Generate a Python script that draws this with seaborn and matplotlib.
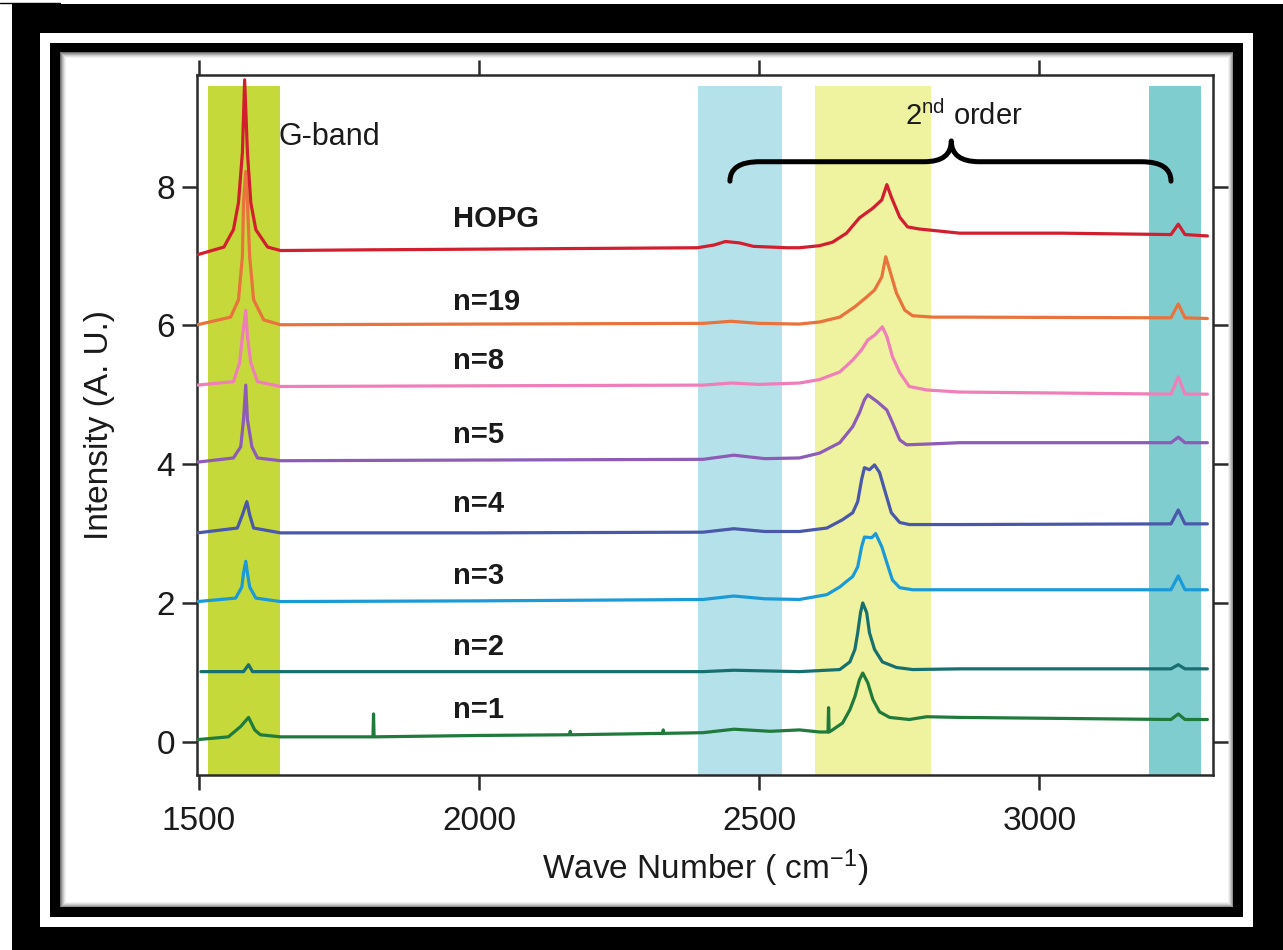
import matplotlib
matplotlib.use("Agg")
import matplotlib.pyplot as plt
from matplotlib.patches import Rectangle, PathPatch
from matplotlib.path import Path
import pandas as pd
import seaborn as sns

# ---- Raman spectra (wavenumber in cm^-1, stacked intensity in A.U.) ----
hopg_x = [1498, 1545, 1562, 1571, 1578, 1582, 1587, 1593, 1602, 1623, 1646, 1800, 2000, 2200,
          2390, 2420, 2440, 2465, 2490, 2550, 2572, 2608, 2631, 2656, 2679, 2703, 2719, 2728,
          2736, 2751, 2765, 2786, 2834, 2858, 3041, 3235, 3248, 3260, 3300]
hopg_y = [7.02, 7.13, 7.38, 7.77, 8.49, 9.54, 8.49, 7.77, 7.38, 7.13, 7.08, 7.09, 7.10, 7.11,
          7.12, 7.16, 7.21, 7.19, 7.14, 7.12, 7.12, 7.15, 7.20, 7.33, 7.55, 7.69, 7.81, 8.03,
          7.85, 7.56, 7.42, 7.39, 7.35, 7.33, 7.33, 7.31, 7.46, 7.31, 7.29]

n19_x = [1498, 1557, 1571, 1578, 1580, 1584, 1587, 1591, 1598, 1616, 1646, 2000, 2400, 2450,
         2500, 2572, 2608, 2644, 2671, 2692, 2706, 2719, 2726, 2733, 2745, 2760, 2774, 2810,
         2858, 3235, 3248, 3260, 3300]
n19_y = [6.01, 6.12, 6.37, 6.99, 7.77, 8.22, 7.77, 6.99, 6.37, 6.08, 6.01, 6.02, 6.03, 6.06,
         6.03, 6.02, 6.05, 6.12, 6.27, 6.41, 6.51, 6.70, 6.99, 6.80, 6.47, 6.22, 6.14, 6.12,
         6.12, 6.11, 6.31, 6.11, 6.10]

n8_x = [1498, 1562, 1573, 1578, 1584, 1587, 1593, 1605, 1646, 2000, 2400, 2450, 2500, 2572,
        2608, 2644, 2667, 2683, 2694, 2706, 2720, 2728, 2738, 2751, 2768, 2799, 2858, 3235,
        3248, 3260, 3300]
n8_y = [5.14, 5.19, 5.46, 5.84, 6.22, 5.84, 5.46, 5.19, 5.12, 5.13, 5.14, 5.17, 5.15, 5.17,
        5.22, 5.33, 5.50, 5.65, 5.79, 5.86, 5.98, 5.84, 5.55, 5.32, 5.12, 5.07, 5.04, 5.01,
        5.26, 5.01, 5.01]

n5_x = [1498, 1562, 1575, 1580, 1584, 1587, 1595, 1605, 1646, 2000, 2400, 2455, 2510, 2572,
        2608, 2644, 2667, 2679, 2688, 2694, 2711, 2728, 2738, 2751, 2763, 2799, 2858, 3235,
        3248, 3260, 3300]
n5_y = [4.03, 4.09, 4.25, 4.64, 5.14, 4.64, 4.25, 4.09, 4.05, 4.06, 4.07, 4.13, 4.08, 4.09,
        4.16, 4.31, 4.54, 4.74, 4.93, 5.00, 4.90, 4.78, 4.60, 4.35, 4.28, 4.29, 4.31, 4.31,
        4.39, 4.31, 4.31]

n4_x = [1498, 1569, 1578, 1586, 1591, 1598, 1646, 2000, 2400, 2455, 2510, 2572, 2621, 2649,
        2667, 2676, 2683, 2688, 2697, 2706, 2715, 2724, 2736, 2751, 2768, 2858, 3235, 3248,
        3260, 3300]
n4_y = [3.01, 3.08, 3.27, 3.46, 3.27, 3.08, 3.01, 3.01, 3.02, 3.07, 3.03, 3.03, 3.08, 3.20,
        3.30, 3.46, 3.78, 3.95, 3.92, 3.99, 3.88, 3.63, 3.30, 3.16, 3.13, 3.13, 3.14, 3.34,
        3.14, 3.14]

n3_x = [1498, 1566, 1577, 1580, 1584, 1587, 1591, 1602, 1646, 2000, 2400, 2455, 2510, 2572,
        2621, 2644, 2656, 2667, 2676, 2683, 2688, 2701, 2708, 2719, 2728, 2738, 2751, 2774,
        2858, 3235, 3248, 3260, 3300]
n3_y = [2.02, 2.07, 2.23, 2.43, 2.60, 2.43, 2.23, 2.07, 2.02, 2.03, 2.05, 2.10, 2.06, 2.05,
        2.12, 2.23, 2.31, 2.38, 2.52, 2.81, 2.95, 2.94, 3.00, 2.81, 2.58, 2.33, 2.22, 2.19,
        2.19, 2.19, 2.39, 2.19, 2.19]

n2_x = [1504, 1580, 1589, 1596, 1646, 2000, 2400, 2455, 2572, 2644, 2662, 2671, 2676, 2681,
        2685, 2692, 2697, 2706, 2720, 2745, 2774, 2858, 3235, 3248, 3260, 3300]
n2_y = [1.01, 1.01, 1.11, 1.01, 1.01, 1.01, 1.01, 1.03, 1.01, 1.04, 1.15, 1.33, 1.57, 1.86,
        2.00, 1.86, 1.57, 1.33, 1.15, 1.07, 1.04, 1.05, 1.05, 1.11, 1.05, 1.05]

n1_x = [1498, 1553, 1575, 1589, 1600, 1610, 1646, 1811, 1812, 1813, 2000, 2162, 2163, 2164,
        2328, 2329, 2330, 2400, 2455, 2520, 2572, 2608, 2623, 2624, 2625, 2631, 2649, 2662,
        2671, 2679, 2685, 2694, 2703, 2715, 2733, 2768, 2799, 2858, 3235, 3248, 3260, 3300]
n1_y = [0.03, 0.07, 0.22, 0.35, 0.17, 0.10, 0.07, 0.07, 0.40, 0.07, 0.09, 0.10, 0.15, 0.10,
        0.12, 0.17, 0.12, 0.13, 0.18, 0.15, 0.17, 0.14, 0.14, 0.49, 0.14, 0.17, 0.27, 0.46,
        0.65, 0.89, 0.99, 0.85, 0.61, 0.43, 0.35, 0.32, 0.36, 0.35, 0.32, 0.40, 0.32, 0.32]

sample_names = ["n=1", "n=2", "n=3", "n=4", "n=5", "n=8", "n=19", "HOPG"]
sample_colors = ["#1f7a3c", "#17706f", "#1b9ad8", "#4a58aa", "#8d5cb6", "#f07fb9", "#e8733c", "#d21f2f"]
label_y = [0.45, 1.37, 2.39, 3.43, 4.42, 5.49, 6.34, 7.54]
spectra = [(n1_x, n1_y), (n2_x, n2_y), (n3_x, n3_y), (n4_x, n4_y),
           (n5_x, n5_y), (n8_x, n8_y), (n19_x, n19_y), (hopg_x, hopg_y)]

# shaded Raman bands
band_lo = [1516, 2391, 2599, 3196]
band_hi = [1646, 2541, 2806, 3289]
band_colors = ["#c6d93a", "#b5e1eb", "#eff29e", "#80cdd0"]

x_ticks = [1500, 2000, 2500, 3000]
y_ticks = [0, 2, 4, 6, 8]

sns.set_theme(style="ticks")
plt.rcParams["font.family"] = ["Liberation Sans", "DejaVu Sans"]
plt.rcParams["mathtext.default"] = "regular"

W, H = 1283, 950
fig = plt.figure(figsize=(W / 100, H / 100), dpi=100)
fig.patch.set_facecolor("white")

# ---- double black picture frame drawn in pixel coordinates ----
bg = fig.add_axes([0, 0, 1, 1], zorder=-5)
bg.set_xlim(0, W)
bg.set_ylim(H, 0)
bg.axis("off")


def box(x0, y0, x1, y1, color, **kw):
    bg.add_patch(Rectangle((x0, y0), x1 - x0, y1 - y0, facecolor=color, edgecolor="none", **kw))


box(12, 4, W, H, "black")
box(40, 33, 1253, 927, "white")
box(50, 43, 1243, 917, "black")
box(60, 52, 1233, 907, "white")
# soft inner shadow of the inner frame
for i, a in enumerate([0.55, 0.4, 0.28, 0.18, 0.1, 0.05]):
    bg.add_patch(Rectangle((60 + i, 52 + i), 1173 - 2 * i, 855 - 2 * i, facecolor="none",
                           edgecolor="black", alpha=a, lw=0.8))
bg.plot([0, 60], [3, 3], color="black", lw=1)

# ---- spectra axes ----
ax = fig.add_axes([197 / W, 1 - 775 / H, (1213 - 197) / W, (775 - 75) / H])
ax.set_facecolor("white")
ax.set_xlim(1497, 3310)
ax.set_ylim(-0.48, 9.61)

for lo, hi, c in zip(band_lo, band_hi, band_colors):
    ax.axvspan(lo, hi, ymin=0, ymax=0.984, facecolor=c, edgecolor="none", zorder=0)

for (xs, ys), name, c in zip(spectra, sample_names, sample_colors):
    df = pd.DataFrame({"wavenumber": xs, "intensity": ys})
    sns.lineplot(data=df, x="wavenumber", y="intensity", ax=ax, color=c, lw=2.3,
                 estimator=None, sort=False, zorder=3)

for name, ly in zip(sample_names, label_y):
    ax.text(1953, ly, name, fontsize=21, fontweight="bold", color="#1a1a1a",
            ha="left", va="center", zorder=4)

ax.text(1643, 8.71, "G-band", fontsize=22, color="#1a1a1a", ha="left", va="center")
ax.text(2761, 8.89, r"2$^{nd}$ order", fontsize=21, color="#1a1a1a", ha="left", va="baseline")

# curly brace over the second-order region
brace = Path(
    [(2448, 8.08), (2448, 8.36), (2501, 8.36), (2795, 8.36), (2843, 8.36), (2843, 8.66),
     (2843, 8.36), (2893, 8.36), (3182, 8.36), (3235, 8.36), (3235, 8.08)],
    [Path.MOVETO, Path.CURVE3, Path.CURVE3, Path.LINETO, Path.CURVE3, Path.CURVE3,
     Path.CURVE3, Path.CURVE3, Path.LINETO, Path.CURVE3, Path.CURVE3])
ax.add_patch(PathPatch(brace, facecolor="none", edgecolor="black", lw=3.6,
                       capstyle="round", joinstyle="round", zorder=5))

ax.set_xticks(x_ticks)
ax.set_yticks(y_ticks)
ax.tick_params(axis="both", which="major", direction="out", length=11, width=1.8,
               color="#2a2a2a", labelsize=24, labelcolor="#1a1a1a",
               top=True, right=True, labeltop=False, labelright=False)
ax.tick_params(axis="x", pad=11)
ax.tick_params(axis="y", pad=5)
for s in ax.spines.values():
    s.set_visible(True)
    s.set_linewidth(1.8)
    s.set_color("#2a2a2a")

ax.set_xlabel(r"Wave Number ( cm$^{-1}$)", fontsize=24, color="#1a1a1a", va="center")
ax.set_ylabel("Intensity (A. U.)", fontsize=24, color="#1a1a1a", va="center")
ax.xaxis.set_label_coords(0.5, -0.133)
ax.yaxis.set_label_coords(-0.0955, 0.5)

fig.savefig("out.png", dpi=100)
